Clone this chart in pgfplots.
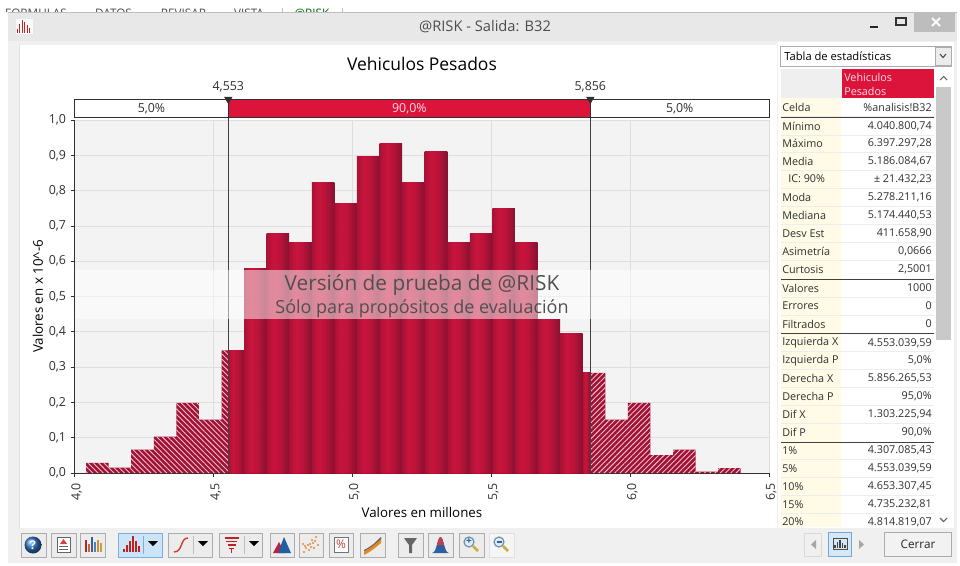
\documentclass[border=0pt]{standalone}
\usepackage{fontspec}
\setmainfont{Open Sans}
\usepackage{pgfplots}
\pgfplotsset{compat=1.18}
\usetikzlibrary{patterns.meta,shapes.geometric}
\definecolor{crim}{HTML}{DC143C}
\definecolor{hatchbg}{HTML}{9E1236}
\definecolor{txt}{HTML}{303030}
\definecolor{cbord}{HTML}{ACACAC}
\definecolor{cbtn}{HTML}{ECECEC}
\definecolor{yel}{HTML}{FFFBE6}
\newcommand\dc[1]{\definecolor{c#1}{HTML}{#1}}
\dc{F0F0F0}\dc{E8E8E8}\dc{C81E1E}\dc{BDBDBD}\dc{EFEFEF}\dc{C9C9C9}\dc{6FA8DC}\dc{D5E8F8}
\dc{2F74C0}\dc{D04040}\dc{A03030}\dc{D06030}\dc{3060A0}\dc{5080C0}\dc{D09030}\dc{C0A040}
\dc{7AB0DC}\dc{CCE4F7}\dc{C02020}\dc{D04030}\dc{C02040}\dc{2060A0}\dc{E08A40}\dc{C04040}
\dc{E08A20}\dc{2F5F9F}\dc{C04050}\dc{7090B0}\dc{E0ECF4}\dc{C8B040}\dc{303030}\dc{F3F3F3}
\dc{DEDEDE}\dc{404040}\dc{505050}
\definecolor{b1}{HTML}{A60A2E}\definecolor{b2}{HTML}{C80B36}\definecolor{b3}{HTML}{B80A32}\definecolor{b4}{HTML}{82092A}
\pgfdeclarehorizontalshading{barshade}{100bp}{color(0bp)=(b1);color(25bp)=(b1);color(40bp)=(b2);color(55bp)=(b3);color(75bp)=(b4);color(100bp)=(b4)}
\newcommand\fs[1]{\fontsize{#1}{#1}\selectfont}
\newcommand\row[3]{%
  \node[anchor=west,inner sep=0,text=txt,font=\fs{8.1pt}] at (782,#1) {#2};
  \node[anchor=east,inner sep=0,text=txt,font=\fs{8.1pt}] at (932,#1) {#3};}
\newcommand\btn[2]{\draw[cbord,fill=cbtn,line width=.5pt] (#1,533) rectangle (#2,557);}
\newcommand\hb[3]{\addplot[ybar interval,draw=none,shade,shading=barshade,opacity=.96] coordinates {(#1,#3)(#2,0)};}
\begin{document}
\begin{tikzpicture}
\begin{scope}[x=.75pt,y=-.75pt]
\useasboundingbox (0,0) rectangle (960,565);
\fill[white] (0,0) rectangle (960,565);
% tabs
\begin{scope}
\clip (0,0) rectangle (960,11.5);
\foreach \x/\t in {36/FORMULAS,113.5/DATOS,183.5/REVISAR,249/VISTA}
  \node[text=black!70,font=\fs{8.8pt}] at (\x,13.5) {\t};
\node[text=green!40!black,font=\fs{8.8pt}] at (312,13.5) {@RISK};
\draw[black!25] (282,8)--(282,11.5) (342,8)--(342,11.5);
\end{scope}
% window
\fill[cF0F0F0] (8,12) rectangle (957,563);
\fill[cE8E8E8] (8,12) rectangle (957,41);
\draw[black!25,line width=.6pt] (8,12)--(957,12);
\fill[white] (19,45) rectangle (777,528);
\draw[black!12] (19,45)--(19,528);
\node[text=black!70,font=\fs{11pt}] at (485,27) {@RISK - Salida: B32};
% logo
\fill[white!85!cE8E8E8] (16,19) rectangle (33,34);
\foreach \x/\h in {16.5/4,19/9,21.5/13,24/11,26.5/8,29/5}
  \fill[cC81E1E] (\x,33) rectangle (\x+1.3,33-\h);
% window controls
\fill[cBDBDBD] (914,12) rectangle (955,32);
\draw[white,line width=1.4pt] (932,18)--(940,26) (940,18)--(932,26);
\draw[black!85,line width=1.5pt] (870,26.5)--(878,26.5);
\draw[black!80,line width=.8pt] (896,18) rectangle (906,25);
\draw[black!80,line width=1.4pt] (896,18)--(906,18);
% right panel
\fill[white] (778,42) rectangle (954,528);
\draw[cbord,fill=white,line width=.6pt] (780,46) rectangle (951,66);
\draw[cbord,fill=cbtn,line width=.5pt] (935,47) rectangle (951,65);
\draw[black!70,line width=.8pt] (940,54)--(943,57.5)--(946,54);
\node[anchor=west,inner sep=0,text=black,font=\fs{8.4pt}] at (784,56) {Tabla de estadísticas};
\fill[cEFEFEF] (781,69) rectangle (842,98);
\fill[crim] (842,69) rectangle (934,98);
\fill[yel] (781,98) rectangle (841,527);
\node[anchor=west,inner sep=0,text=white!85!crim,font=\fs{8.1pt}] at (844,77.5) {Vehiculos};
\node[anchor=west,inner sep=0,text=white!85!crim,font=\fs{8.1pt}] at (844,91) {Pesados};
\foreach \y in {116,135,152,170,188,206,224,242,260,297,315,351,369,387,405,423,459,477,495,513}
  \draw[black!7,line width=.4pt] (781,\y)--(934,\y);
\foreach \y in {117.7,279.3,333.3,442.7}
  \draw[black!75,line width=1pt] (781,\y)--(934,\y);
\fill[cC9C9C9] (936,87) rectangle (951,340);
\draw[black!60,line width=.8pt] (940,80)--(943.5,76.5)--(947,80);
\draw[black!60,line width=.8pt] (940,518)--(943.5,521.5)--(947,518);
\row{107}{Celda}{\%analisis!B32}
\row{126}{Mínimo}{4.040.800,74}
\row{143.7}{Máximo}{6.397.297,28}
\row{161.2}{Media}{5.186.084,67}
\node[anchor=west,inner sep=0,text=txt,font=\fs{8.1pt}] at (788,179) {IC: 90\%};
\node[anchor=east,inner sep=0,text=txt,font=\fs{8.1pt}] at (932,179) {± 21.432,23};
\row{197.7}{Moda}{5.278.211,16}
\row{215.5}{Mediana}{5.174.440,53}
\row{233.5}{Desv Est}{411.658,90}
\row{251.7}{Asimetría}{0,0666}
\row{269.7}{Curtosis}{2,5001}
\row{288}{Valores}{1000}
\row{305.7}{Errores}{0}
\row{324}{Filtrados}{0}
\row{343}{Izquierda X}{4.553.039,59}
\row{360.7}{Izquierda P}{5,0\%}
\row{378.5}{Derecha X}{5.856.265,53}
\row{396.7}{Derecha P}{95,0\%}
\row{414.3}{Dif X}{1.303.225,94}
\row{432.3}{Dif P}{90,0\%}
\row{450.7}{1\%}{4.307.085,43}
\row{468.7}{5\%}{4.553.039,59}
\row{486.7}{10\%}{4.653.307,45}
\row{504.3}{15\%}{4.735.232,81}
\row{522}{20\%}{4.814.819,07}
\fill[cF0F0F0] (778,528) rectangle (957,563);
% right buttons
\draw[black!15,fill=black!6] (804,533) rectangle (821,556);
\fill[black!35] (816,540)--(811,544.5)--(816,549)--cycle;
\draw[c6FA8DC,fill=cD5E8F8,line width=.6pt] (828.3,532) rectangle (851,556.5);
\draw[black!70,line width=.5pt] (833,538) rectangle (847,549);
\foreach \x/\h in {835/3,837.5/6,840/8,842.5/5,845/3} \draw[black!75,line width=.9pt] (\x,547.5)--(\x,547.5-\h);
\fill[black!35] (859,540)--(864,544.5)--(859,549)--cycle;
\draw[cbord,fill=black!5,line width=.6pt] (884,532) rectangle (951.7,556.7);
\node[text=black!85,font=\fs{8.8pt}] at (918,544.5) {Cerrar};
% toolbar
\btn{21}{46}
\shade[ball color=c2F74C0] (33,545) circle (8.5);
\node[text=white,font=\fs{9pt}\bfseries] at (33,545) {?};
\btn{51}{76}
\draw[black!60,fill=white,line width=.5pt] (57,537) rectangle (70,552);
\fill[cD04040] (63.5,539)--(67,544)--(60,544)--cycle;
\draw[black!60,line width=.6pt] (59,546.5)--(68,546.5) (59,549)--(68,549);
\btn{80}{105}
\foreach \x/\h/\c in {85/12/cA03030,88/8/cD06030,91/15/c3060A0,94/10/c5080C0,97/12/cD09030,100/9/cC0A040}
  \fill[\c] (\x,552)rectangle(\x+2.3,552-\h);
% hist button
\draw[c7AB0DC,fill=cCCE4F7,line width=.6pt] (118,533) rectangle (162,557);
\draw[c7AB0DC,line width=.5pt] (143,536)--(143,554);
\foreach \x/\h in {123/3,126/7,129/11,132/16,135/11,138/6} \fill[cC02020] (\x,552)rectangle(\x+1.8,552-\h);
\fill[black] (148,541)--(158,541)--(153,546)--cycle;
\btn{168}{212}
\draw[cD04030,line width=1.1pt] (174,552) .. controls (183,552) and (180,538) .. (188,538);
\draw[black!25,line width=.5pt] (193,536)--(193,554);
\fill[black] (198,541)--(208,541)--(203,546)--cycle;
\btn{219}{262}
\foreach \y/\a in {538/7,541.5/5.5,545/4,548.5/2.5}
  \draw[cC02020,line width=1.2pt] (231.5-\a,\y)--(231.5+\a,\y);
\draw[cC02020,line width=1pt] (231.5,548)--(231.5,553);
\draw[black!25,line width=.5pt] (244,536)--(244,554);
\fill[black] (249,541)--(259,541)--(254,546)--cycle;
\btn{270}{294}
\fill[cC02040] (273,553) -- (279,542) -- (285,553)--cycle;
\fill[c2060A0] (278,553) -- (284,537) -- (291,553)--cycle;
\btn{299}{323}
\foreach \x/\y in {304/552,306/548,309/550,308/545,311/547,313/543,315/541,312/540,316/537,310/544,305/546,314/548,303/544,318/545}
  \fill[cE08A40] (\x,\y) circle (1.1);
\btn{329}{353}
\draw[black!55,fill=white,line width=.5pt] (334,537) rectangle (348,552);
\node[text=cC04040,font=\fs{9pt}] at (341,544.5) {\%};
\btn{360}{385}
\fill[cE08A20] (364,552) .. controls (372,546) and (376,542) .. (381,537) -- (381,543) .. controls (376,547) and (372,551) .. (364,555)--cycle;
\fill[black!60] (364,550) .. controls (372,546) and (376,542) .. (381,537) -- (381,539) .. controls (376,543) and (372,547) .. (364,551.5)--cycle;
\btn{398}{423}
\fill[black!60] (404,538)--(417,538)--(412,545)--(412,553)--(409,553)--(409,545)--cycle;
\btn{428}{453}
\fill[c2F5F9F] (432,553) .. controls (437,553) and (437,537) .. (440.5,537) .. controls (444,537) and (444,553) .. (449,553)--cycle;
\fill[cC04050] (440.5,537) .. controls (439,537) and (438,541) .. (437,545) -- (444,545) .. controls (443,541) and (442,537) .. (440.5,537)--cycle;
\btn{459}{484}
\draw[c7090B0,fill=cE0ECF4,line width=.9pt] (469,542) circle (5);
\node[text=c3060A0,font=\fs{7.5pt}\bfseries] at (469,542) {+};
\draw[cC8B040,line width=2pt] (473,546)--(478,551);
\draw[black!12,fill=black!4,line width=.5pt] (489,533) rectangle (514,557);
\draw[c7090B0,fill=cE0ECF4,line width=.9pt] (499,542) circle (5);
\draw[c3060A0,line width=.8pt] (496.5,542)--(501.5,542);
\draw[cC8B040,line width=2pt] (503,546)--(508,551);
\end{scope}
\begin{axis}[
  at={(56.03pt,-354.75pt)}, anchor=origin,
  scale only axis, width=520.9pt, height=264.75pt,
  xmin=4, xmax=6.5, ymin=0, ymax=1,
  clip=false,
  axis lines=left,
  axis line style={-,draw=c303030,line width=.7pt},
  axis background/.style={fill=cF3F3F3},
  xtick={4,4.5,5,5.5,6,6.5},
  ytick={0,0.1,...,1.01},
  tick style={draw=c303030,line width=.6pt},
  tick align=outside, major tick length=3pt,
  grid=major,
  grid style={draw=cDEDEDE,line width=.6pt},
  tick label style={text=txt,font=\fs{9.3pt}},
  /pgf/number format/.cd,use comma,fixed,fixed zerofill,precision=1,assume math mode=true,/pgfplots/.cd,
  xticklabel style={rotate=90,anchor=east,xshift=-1.5pt,yshift=-1.5pt},
  xlabel={Valores en millones},
  ylabel={Valores en x 10\textasciicircum{}-6},
  label style={text=txt,font=\fs{8.6pt}},
  every axis x label/.style={at={(axis description cs:0.5,-0.1105)},anchor=center},
  every axis y label/.style={at={(axis description cs:-0.0530,0.5)},anchor=center,rotate=90},
]
% solid 90% bars, one plot per bar so that each bar carries its own shading
\hb{4.553}{4.6096}{.3475}
\hb{4.6096}{4.6909}{.58}
\hb{4.6909}{4.7722}{.679}
\hb{4.7722}{4.8534}{.653}
\hb{4.8534}{4.9347}{.823}
\hb{4.9347}{5.0159}{.764}
\hb{5.0159}{5.0972}{.898}
\hb{5.0972}{5.1785}{.934}
\hb{5.1785}{5.2597}{.823}
\hb{5.2597}{5.3410}{.911}
\hb{5.3410}{5.4222}{.653}
\hb{5.4222}{5.5035}{.679}
\hb{5.5035}{5.5848}{.750}
\hb{5.5848}{5.6660}{.653}
\hb{5.6660}{5.7473}{.435}
\hb{5.7473}{5.8285}{.396}
\hb{5.8285}{5.856}{.284}
% left tail
\addplot[ybar interval,draw=none,preaction={fill=hatchbg},pattern={Lines[angle=-45,distance=2.8pt,line width=.68pt]},pattern color=white!72!crim] coordinates {
(4.0408,.029)(4.1221,.015)(4.2033,.066)(4.2846,.103)(4.3658,.199)(4.4471,.151)(4.5284,.3475)(4.553,0)};
% right tail
\addplot[ybar interval,draw=none,preaction={fill=hatchbg},pattern={Lines[angle=45,distance=2.8pt,line width=.68pt]},pattern color=white!72!crim] coordinates {
(5.856,.284)(5.9098,.151)(5.9911,.199)(6.0723,.051)(6.1536,.066)(6.2348,.004)(6.3161,.014)(6.3973,0)};
% delimiters
\addplot[draw=c404040,line width=.7pt] coordinates {(4.553,0)(4.553,1.0586)};
\addplot[draw=c404040,line width=.7pt] coordinates {(5.856,0)(5.856,1.0586)};
% percent strip
\draw[c303030,fill=white,line width=.7pt] (axis cs:4,1.0065) rectangle (axis cs:6.5,1.0586);
\fill[crim] (axis cs:4.553,1.0065) rectangle (axis cs:5.856,1.0586);
\draw[c303030,line width=.7pt] (axis cs:4,1.0065) rectangle (axis cs:6.5,1.0586);
\draw[c303030,line width=.7pt] (axis cs:4.553,1.0065)--(axis cs:4.553,1.0586) (axis cs:5.856,1.0065)--(axis cs:5.856,1.0586);
\addplot[only marks,mark=triangle*,mark size=3.2pt,mark options={rotate=180,fill=c303030,draw=c303030}] coordinates {(4.553,1.0586)(5.856,1.0586)};
\node[text=txt,font=\fs{9.3pt}] at (axis cs:4.2763,1.0325) {5,0\%};
\node[text=white!85!crim,font=\fs{9.3pt}] at (axis cs:5.2045,1.0325) {90,0\%};
\node[text=txt,font=\fs{9.3pt}] at (axis cs:6.1778,1.0325) {5,0\%};
\node[text=txt,font=\fs{9.3pt}] at (axis cs:4.553,1.0935) {4,553};
\node[text=txt,font=\fs{9.3pt}] at (axis cs:5.856,1.0935) {5,856};
\node[text=black,font=\fs{13.1pt}] at (axis cs:5.25,1.1595) {Vehiculos Pesados};
% watermark band
\fill[white,opacity=.5] (axis cs:4,.435) rectangle (axis cs:6.5,.575);
\node[text=c505050,font=\fs{15.6pt}] at (axis cs:5.25,.5325) {Versión de prueba de @RISK};
\node[text=c505050,font=\fs{13.5pt}] at (axis cs:5.25,.4665) {Sólo para propósitos de evaluación};
\end{axis}
\end{tikzpicture}
\end{document}
